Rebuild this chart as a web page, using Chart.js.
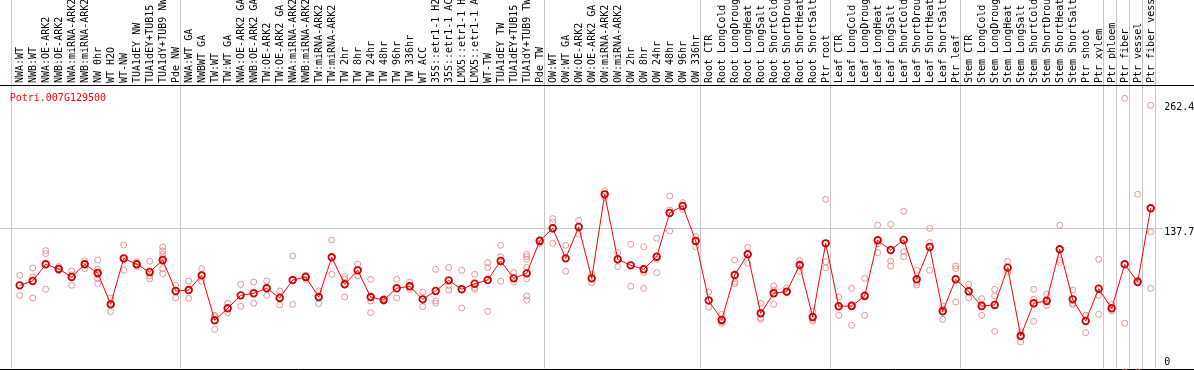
<!DOCTYPE html>
<html>
<head>
<meta charset="utf-8">
<script src="https://cdn.jsdelivr.net/npm/chart.js@4.4.0/dist/chart.umd.min.js"></script>
<style>
html, body { margin: 0; padding: 0; background: #fff; overflow: hidden; }
#wrap { width: 1194px; height: 370px; }
</style>
</head>
<body>
<div id="wrap"><canvas id="expr"></canvas></div>
<script>
let GENE = 'Potri.007G129500';

let SAMPLES = [
	'NWA:WT', 'NWB:WT', 'NWA:OE-ARK2', 'NWB:OE-ARK2', 'NWA:miRNA-ARK2', 'NWB:miRNA-ARK2', 'NW 0hr',
	'WT H2O', 'WT-NW', 'TUA1dEY NW', 'TUA1dEY+TUB15 NW', 'TUA1dY+TUB9 NW', 'Pde NW',
	'NWA:WT GA', 'NWBWT GA', 'TW:WT', 'TW:WT GA', 'NWA:OE-ARK2 GA', 'NWB:OE-ARK2 GA', 'TW:OE-ARK2',
	'TW:OE-ARK2 GA', 'NWA:miRNA-ARK2', 'NWB:miRNA-ARK2', 'TW:miRNA-ARK2', 'TW:miRNA-ARK2', 'TW 2hr',
	'TW 8hr', 'TW 24hr', 'TW 48hr', 'TW 96hr', 'TW 336hr', 'WT ACC', '35S::etr1-1 H2O', '35S::etr1-1 ACC',
	'LMX5::etr1-1 H2O', 'LMX5::etr1-1 ACC', 'WT-TW', 'TUA1dEY TW', 'TUA1dEY+TUB15 TW', 'TUA1dY+TUB9 TW', 'Pde TW',
	'OW:WT', 'OW:WT GA', 'OW:OE-ARK2', 'OW:OE-ARK2 GA', 'OW:miRNA-ARK2', 'OW:miRNA-ARK2', 'OW 2hr',
	'OW 8hr', 'OW 24hr', 'OW 48hr', 'OW 96hr', 'OW 336hr',
	'Root CTR', 'Root LongCold', 'Root LongDrought', 'Root LongHeat', 'Root LongSalt', 'Root ShortCold',
	'Root ShortDrought', 'Root ShortHeat', 'Root ShortSalt', 'Ptr root',
	'Leaf CTR', 'Leaf LongCold', 'Leaf LongDrought', 'Leaf LongHeat', 'Leaf LongSalt', 'Leaf ShortCold',
	'Leaf ShortDrought', 'Leaf ShortHeat', 'Leaf ShortSalt', 'Ptr leaf',
	'Stem CTR', 'Stem LongCold', 'Stem LongDrought', 'Stem LongHeat', 'Stem LongSalt', 'Stem ShortCold',
	'Stem ShortDrought', 'Stem ShortHeat', 'Stem ShortSalt', 'Ptr shoot', 'Ptr xylem',
	'Ptr phloem', 'Ptr fiber', 'Ptr vessel', 'Ptr fiber vessel',
];

let MEANS = [
	83.0, 87.2, 103.2, 98.7, 91.0, 103.2, 94.9, 64.8, 108.9, 103.2, 95.8, 107.3, 77.6,
	78.5, 92.6, 49.5, 61.0, 73.4, 75.4, 80.2, 70.9, 88.1, 91.0, 71.8, 109.9, 84.0, 97.4, 71.8,
	68.9, 80.2, 82.1, 69.6, 77.6, 87.8, 79.2, 84.6, 88.1, 106.4, 89.7, 94.5, 125.6,
	137.7, 108.9, 139.0, 89.7, 170.3, 108.0, 102.2, 98.4, 110.5, 152.4, 159.1, 125.6,
	68.6, 49.8, 92.9, 112.8, 56.2, 75.4, 77.0, 102.5, 52.6, 123.3,
	62.9, 63.2, 72.8, 126.2, 116.9, 126.5, 88.8, 119.8, 58.1, 88.8,
	77.3, 63.2, 64.2, 100.0, 34.4, 65.8, 68.0, 117.6, 69.6, 48.8, 79.8,
	61.0, 103.2, 86.2, 156.9,
];

let REPLICATES = [
	[92.6, 73.4], [99.7, 91.0, 70.9], [116.3, 113.4, 79.2], [101.0, 97.0, 98.5], [96.8, 93.0, 83.0],
	[106.5, 104.0, 99.0], [107.3, 98.4, 93.3, 89.4, 84.9], [70.9, 65.8, 57.8], [121.7, 107.5, 97.4],
	[105.5, 103.0, 101.0], [106.1, 92.0, 89.4], [119.8, 116.0, 112.8, 109.6, 105.7, 99.0, 94.2], [83.3, 71.0],
	[87.2, 70.6], [99.0, 92.0, 87.0], [54.2, 53.0, 40.8], [65.8, 56.8], [84.0, 62.9], [86.2, 65.8],
	[87.2, 73.4], [77.6, 64.2], [111.2, 64.8], [92.6, 91.5, 88.8], [77.6, 65.4], [126.5, 93.6],
	[91.3, 89.0, 71.8], [103.5, 92.0], [88.8, 68.0, 56.8], [70.2, 67.8], [88.8, 70.9], [86.2, 79.2],
	[76.6, 62.6], [98.4, 68.0, 65.8], [100.0, 83.0, 78.5], [97.4, 61.3], [93.6, 81.0, 79.2],
	[104.8, 100.0, 58.1], [121.4, 110.5, 86.9], [95.2, 86.2], [112.8, 110.5, 108.0, 100.0, 89.4, 72.8, 68.9],
	[127.2, 123.3],
	[147.0, 143.8, 123.3], [121.4, 96.5], [145.4, 131.9], [93.6, 85.6], [173.5, 167.1], [114.4, 101.0],
	[122.4, 82.1], [120.1, 95.2, 80.2], [128.1, 108.0, 95.2], [168.7, 155.3, 135.1], [162.3, 155.9],
	[129.7, 120.1],
	[76.6, 62.0], [55.2, 47.9, 46.5], [107.3, 86.2, 84.6], [119.5, 104.1], [65.8, 52.0, 50.4],
	[82.4, 78.5, 64.8], [80.5, 76.0], [106.7, 96.5], [58.1, 50.4, 48.8], [165.5, 105.7, 99.7],
	[71.8, 54.2], [80.2, 64.8, 44.7], [89.7, 74.0, 54.2], [140.6, 123.0, 114.4], [141.5, 106.4, 101.6],
	[154.0, 115.3, 110.5], [97.4, 85.6, 83.3], [137.7, 124.0, 97.4], [63.2, 60.5, 50.4], [101.6, 99.0, 67.0],
	[84.0, 71.2], [70.2, 65.0, 54.2], [79.2, 72.8, 38.9], [106.1, 95.8], [38.3, 35.5, 28.7],
	[79.2, 69.6, 48.5], [74.4, 69.6, 63.8], [140.6, 107.3, 104.8], [78.5, 66.0, 64.5], [54.2, 54.0, 37.6],
	[108.0, 73.4, 55.2],
	[64.8, 58.4], [262.4, 46.6, 0], [170.3, 88.0, 0], [255.7, 134.2, 80.2],
];

let Y_TICKS = [0, 137.7, 262.4];
let Y_GRID = [137.7];
// first sample index of every group, plus the end
let GROUP_BREAKS = [0, 13, 41, 53, 63, 73, 84, 85, 86, 87, 88];

let repPoints = [];
for (let i = 0; i < REPLICATES.length; i++) {
	for (let r = 0; r < REPLICATES[i].length; r++) repPoints.push({ x: i, y: REPLICATES[i][r] });
}

let FONT = '"DejaVu Sans Mono", monospace';

let frame = {
	id: 'frame',
	beforeDatasetsDraw(chart) {
		let { ctx, chartArea: a, scales } = chart;
		let x = scales.x, y = scales.y;
		let step = x.width / SAMPLES.length;
		ctx.save();
		ctx.lineWidth = 1;
		ctx.strokeStyle = '#c8c8c8';
		Y_GRID.forEach((v) => {
			let py = Math.round(y.getPixelForValue(v)) + 0.5;
			ctx.beginPath();
			ctx.moveTo(0, py);
			ctx.lineTo(a.right + 6, py);
			ctx.stroke();
		});
		GROUP_BREAKS.forEach((k) => {
			let px = Math.round(x.getPixelForValue(k) - 0.69 * step) + 0.5;
			ctx.beginPath();
			ctx.moveTo(px, 0);
			ctx.lineTo(px, chart.height);
			ctx.stroke();
		});
		ctx.strokeStyle = '#000';
		[a.top - 0.5, a.bottom].forEach((py) => {
			ctx.beginPath();
			ctx.moveTo(0, py);
			ctx.lineTo(chart.width, py);
			ctx.stroke();
		});
		ctx.restore();
	},
	afterDraw(chart) {
		let { ctx, chartArea: a, scales } = chart;
		let y = scales.y;
		ctx.save();
		ctx.font = '10px ' + FONT;
		ctx.fillStyle = '#000';
		ctx.textAlign = 'left';
		ctx.textBaseline = 'middle';
		Y_TICKS.forEach((v) => {
			let py = Math.min(Math.max(y.getPixelForValue(v) + 4, a.top + 21), a.bottom - 7);
			ctx.fillText(String(v), a.right + 7, py);
		});
		ctx.fillStyle = '#ff0000';
		ctx.textBaseline = 'alphabetic';
		ctx.fillText(GENE, a.left - 3.5, a.top + 15);
		ctx.restore();
	},
};

var ctx = document.getElementById('expr').getContext('2d');
var exprChart = new Chart(ctx, {
	type: 'line',
	plugins: [frame],
	options: {
		animation: false,
		responsive: true,
		maintainAspectRatio: false,
		layout: { autoPadding: false, padding: { left: 13.2, right: 36.8, top: 0, bottom: 0.5 } },
		plugins: { legend: { display: false }, tooltip: { enabled: false } },
		scales: {
			x: {
				position: 'top',
				offset: true,
				grid: { display: false },
				border: { display: false },
				ticks: {
					autoSkip: false,
					minRotation: 90,
					maxRotation: 90,
					padding: -5,
					labelOffset: 12.5,
					color: '#000',
					font: { family: FONT, size: 10 },
				},
				afterFit: (scale) => {
					scale.height = 86;
				},
			},
			y: {
				display: false,
				min: 2.3,
				max: 274.2,
			},
		},
	},
	data: {
		labels: SAMPLES,
		datasets: [
			{
				label: 'mean',
				data: MEANS,
				borderColor: '#ff0000',
				borderWidth: 1,
				tension: 0,
				pointRadius: 3.3,
				pointBorderWidth: 1.8,
				pointBorderColor: '#d00000',
				pointBackgroundColor: 'rgba(0,0,0,0)',
			},
			{
				label: 'replicates',
				data: repPoints,
				parsing: false,
				showLine: false,
				clip: false,
				pointRadius: 3,
				pointBorderWidth: 1,
				pointBorderColor: 'rgba(230,130,130,0.85)',
				pointBackgroundColor: 'rgba(0,0,0,0)',
			},
		],
	},
});
</script>
</body>
</html>
